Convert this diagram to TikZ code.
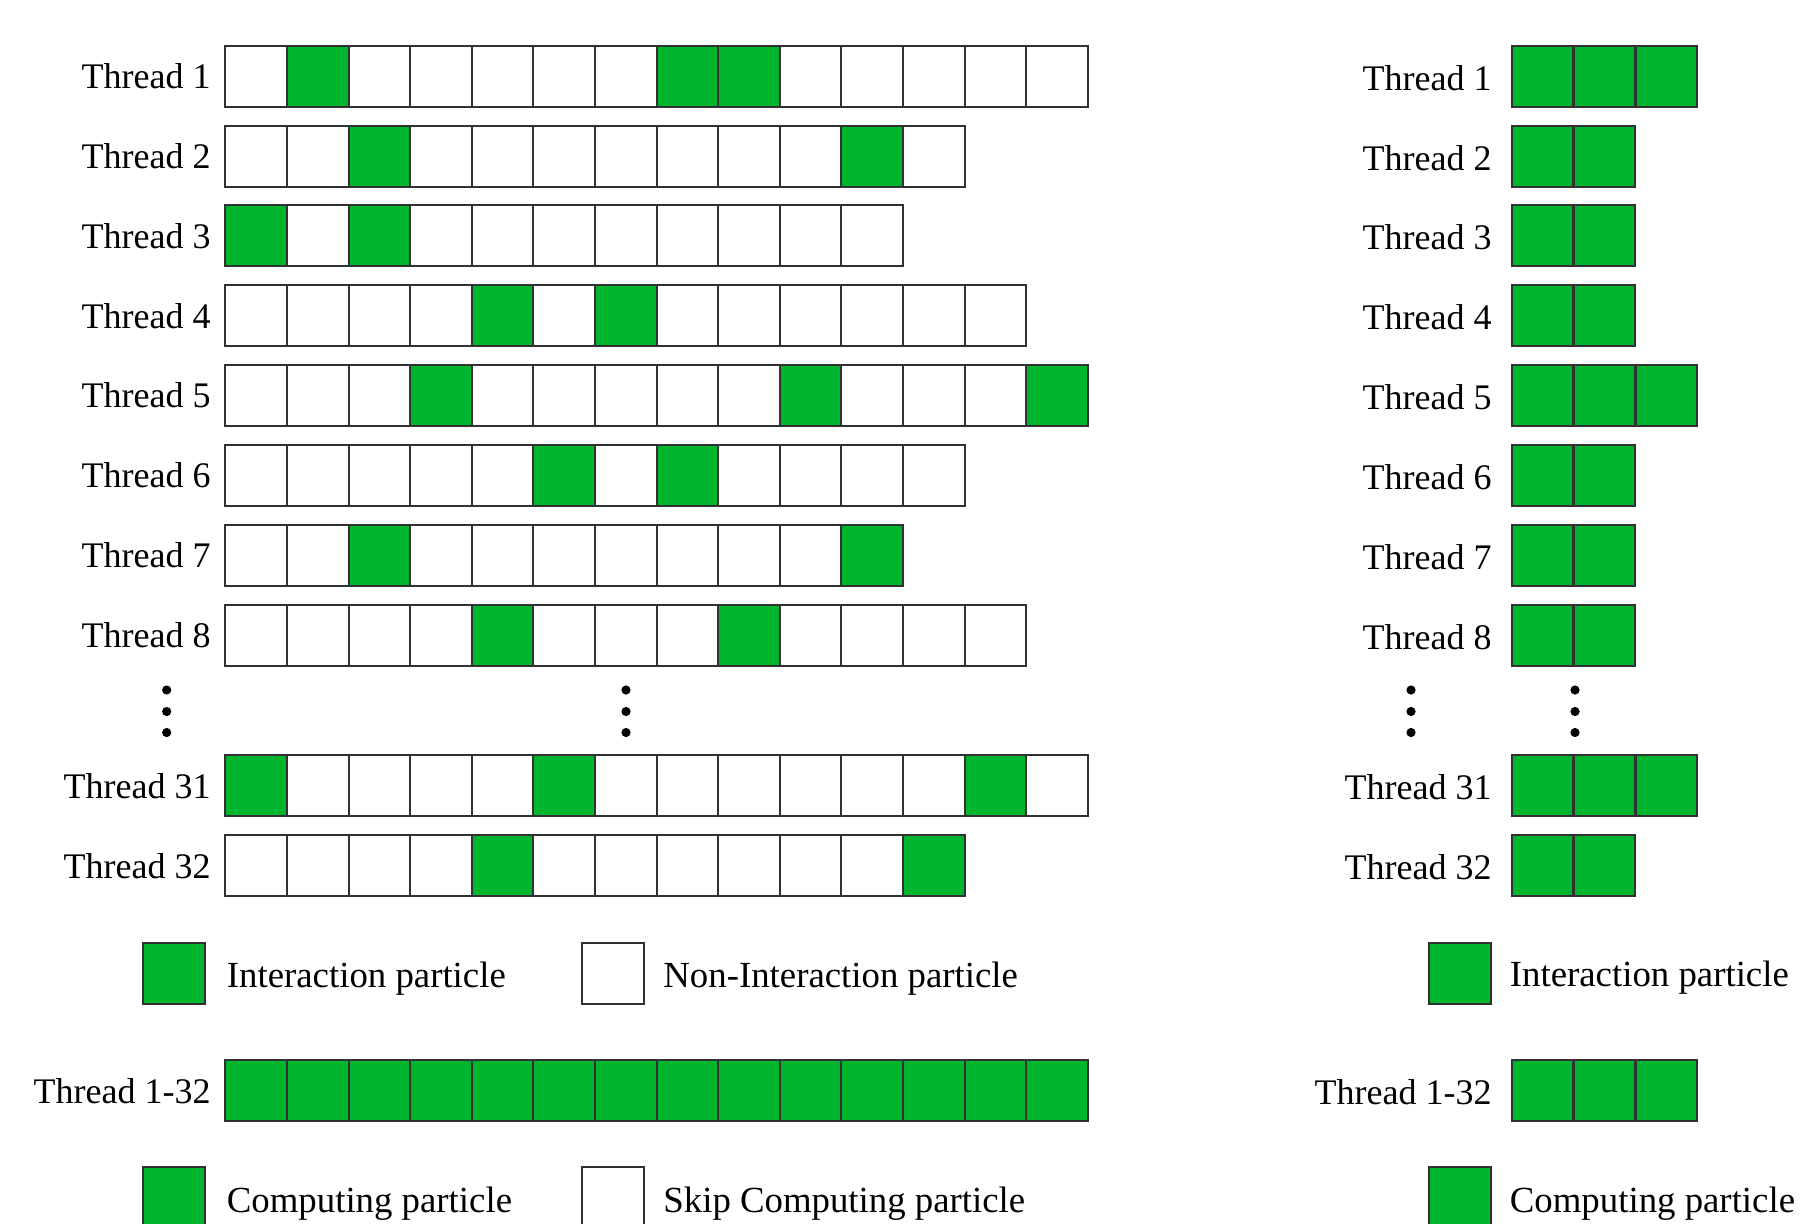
\documentclass[tikz,border=0pt]{standalone}
\usepackage{fontspec}
\setmainfont{Liberation Serif}
\definecolor{cgreen}{RGB}{0,181,46}
\definecolor{cline}{RGB}{50,50,50}
\begin{document}
\begin{tikzpicture}[x=0.5pt,y=-0.5pt,
  cell/.style={draw=cline, line width=1pt, minimum width=30.8pt, minimum height=30.5pt, inner sep=0pt, outer sep=0pt, anchor=north west},
  wcell/.style={cell, fill=white},
  gcell/.style={cell, fill=cgreen},
  lbl/.style={font=\fontsize{18}{20}\selectfont, anchor=base east, inner sep=0pt},
  leg/.style={font=\fontsize{18.4}{20}\selectfont, anchor=base west, inner sep=0pt},
  legbox/.style={draw=cline, line width=1pt, minimum width=31.2pt, minimum height=30.8pt, inner sep=0pt, outer sep=0pt, anchor=north west},
  vdot/.style={circle, fill=black, inner sep=0pt, minimum size=4.6pt}]
\useasboundingbox (0,0) rectangle (1803,1223);
\newcommand{\leftrow}[5]{%
  \node[lbl] (#1lab) at (211,{#2+43}) {#5};
  \foreach \i in {1,...,#3} {\node[wcell] (#1c\i) at ({225.4+61.6*(\i-1)},#2) {};}
  \foreach \i in {#4} {\node[gcell] (#1g\i) at ({225.4+61.6*\i},#2) {};}
}
\newcommand{\rightrow}[4]{%
  \node[lbl] (#1lab) at (1492,{#2+44.5}) {#4};
  \foreach \i in {1,...,#3} {\node[gcell] (#1c\i) at ({1511.5+62*(\i-1)},#2) {};}
}
% left panel
\leftrow{La}{45.7}{14}{1,7,8}{Thread 1}
\leftrow{Lb}{125.5}{12}{2,10}{Thread 2}
\leftrow{Lc}{205.2}{11}{0,2}{Thread 3}
\leftrow{Ld}{285}{13}{4,6}{Thread 4}
\leftrow{Le}{364.8}{14}{3,9,13}{Thread 5}
\leftrow{Lf}{444.8}{12}{5,7}{Thread 6}
\leftrow{Lg}{524.7}{11}{2,10}{Thread 7}
\leftrow{Lh}{604.7}{13}{4,8}{Thread 8}
\leftrow{Li}{755}{14}{0,5,12}{Thread 31}
\leftrow{Lj}{835}{12}{4,11}{Thread 32}
\leftrow{Lk}{1060.3}{14}{0,1,2,3,4,5,6,7,8,9,10,11,12,13}{Thread 1-32}
% right panel
\rightrow{Ra}{45.7}{3}{Thread 1}
\rightrow{Rb}{125.5}{2}{Thread 2}
\rightrow{Rc}{205.2}{2}{Thread 3}
\rightrow{Rd}{285}{2}{Thread 4}
\rightrow{Re}{364.8}{3}{Thread 5}
\rightrow{Rf}{444.8}{2}{Thread 6}
\rightrow{Rg}{524.7}{2}{Thread 7}
\rightrow{Rh}{604.7}{2}{Thread 8}
\rightrow{Ri}{755}{3}{Thread 31}
\rightrow{Rj}{835}{2}{Thread 32}
\rightrow{Rk}{1060.3}{3}{Thread 1-32}
% vertical dots
\foreach \x/\n in {166.7/a,626/b,1411/c,1575/d} {
  \node[vdot] (dot\n1) at (\x,690) {};
  \node[vdot] (dot\n2) at (\x,711.5) {};
  \node[vdot] (dot\n3) at (\x,732.5) {};
}
% legends left
\node[legbox, fill=cgreen] (lg1) at (142.5,942.7) {};
\node[leg] (lg1t) at (226.5,987) {Interaction particle};
\node[legbox, fill=white] (lw1) at (581.7,942.7) {};
\node[leg] (lw1t) at (663,987) {Non-Interaction particle};
\node[legbox, fill=cgreen] (lg2) at (142.5,1166.7) {};
\node[leg] (lg2t) at (226.5,1212) {Computing particle};
\node[legbox, fill=white] (lw2) at (581.7,1166.7) {};
\node[leg] (lw2t) at (663,1212) {Skip Computing particle};
% legends right
\node[legbox, fill=cgreen] (rg1) at (1429,942.7) {};
\node[leg] (rg1t) at (1509.5,986) {Interaction particle};
\node[legbox, fill=cgreen] (rg2) at (1429,1166.7) {};
\node[leg] (rg2t) at (1509.5,1212) {Computing particle};
\end{tikzpicture}
\end{document}
